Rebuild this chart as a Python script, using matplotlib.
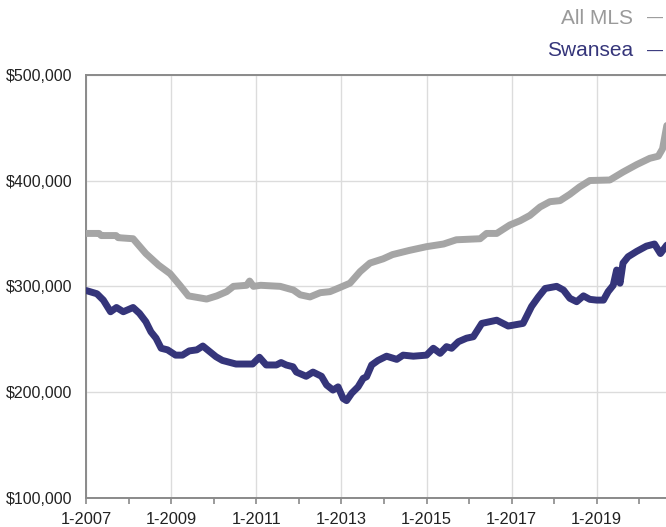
import matplotlib
matplotlib.use("Agg")
import matplotlib.pyplot as plt

# ---- data (decimal year, median price in $k) ----
mls_t = [2007.0, 2007.3, 2007.35, 2007.7, 2007.75, 2008.1, 2008.4, 2008.7, 2008.97,
         2009.2, 2009.4, 2009.83, 2010.07, 2010.3, 2010.46, 2010.77, 2010.84, 2010.93,
         2011.1, 2011.56, 2011.87, 2012.03, 2012.26, 2012.5, 2012.73, 2012.97, 2013.2,
         2013.44, 2013.67, 2013.98, 2014.2, 2014.6, 2015.0, 2015.4, 2015.7, 2016.26,
         2016.41, 2016.65, 2016.96, 2017.2, 2017.43, 2017.67, 2017.9, 2018.14, 2018.37,
         2018.6, 2018.84, 2019.31, 2019.62, 2019.94, 2020.25, 2020.45, 2020.55, 2020.65]
mls_v = [350, 350, 348, 348, 346, 345, 331, 320, 312,
         301, 291, 288, 291, 295, 300, 301, 305, 300,
         301, 300, 296.5, 292, 290, 294, 295, 299, 303,
         314, 322, 326, 330, 334, 337.5, 340, 344, 345,
         350, 350, 358, 362, 367, 375, 380, 381, 387,
         394, 400, 400.5, 408, 415, 421, 423, 430, 452]

sw_t = [2007.0, 2007.25, 2007.4, 2007.57, 2007.71, 2007.87, 2008.1, 2008.25, 2008.4,
        2008.52, 2008.64, 2008.76, 2008.91, 2009.1, 2009.26, 2009.42, 2009.6, 2009.74,
        2009.85, 2010.05, 2010.2, 2010.52, 2010.91, 2011.07, 2011.23, 2011.47, 2011.58,
        2011.7, 2011.86, 2011.94, 2012.17, 2012.33, 2012.53, 2012.65, 2012.8, 2012.92,
        2013.04, 2013.12, 2013.24, 2013.39, 2013.51, 2013.59, 2013.71, 2013.86, 2014.06,
        2014.3, 2014.45, 2014.69, 2015.0, 2015.16, 2015.32, 2015.47, 2015.59, 2015.75,
        2015.94, 2016.1, 2016.3, 2016.65, 2016.92, 2017.27, 2017.47, 2017.63, 2017.79,
        2018.06, 2018.22, 2018.37, 2018.53, 2018.69, 2018.84, 2019.0, 2019.16, 2019.27,
        2019.39, 2019.47, 2019.51, 2019.55, 2019.62, 2019.74, 2019.94, 2020.17, 2020.36,
        2020.5, 2020.65]
sw_v = [296, 293, 287, 276, 280, 276, 280, 274.5, 266.6,
        257, 251, 241.5, 240, 235, 235, 239, 240, 243.6,
        240, 233.5, 230, 226.6, 226.6, 233, 225.7, 225.7, 228,
        225.7, 224, 219, 215, 219, 215, 206.8, 202, 205,
        194, 192, 199, 205, 213, 214.6, 225.7, 230, 234,
        231, 235, 234, 235, 241.5, 236.7, 243, 241.5, 247.7,
        251, 252.4, 265, 268, 262.5, 265, 281, 290, 298,
        300, 296.5, 288.7, 285.5, 291, 287.7, 287, 287, 295,
        301, 315.4, 309, 303, 322, 328, 333, 338, 340,
        331, 339]

yticks = [100, 200, 300, 400, 500]
ytick_labels = ["$100,000", "$200,000", "$300,000", "$400,000", "$500,000"]
xticks_major = [2007, 2009, 2011, 2013, 2015, 2017, 2019]
xtick_labels = ["1-2007", "1-2009", "1-2011", "1-2013", "1-2015", "1-2017", "1-2019"]
xticks_minor = list(range(2008, 2022, 2))

series_names = ["All MLS", "Swansea"]

GRAY = "#a5a5a5"
NAVY = "#35357a"
AXC = "#8a8a8a"
FONT = ["Liberation Sans", "DejaVu Sans"]

plt.rcParams["font.family"] = FONT

fig = plt.figure(figsize=(6.66, 5.27), dpi=100)
ax = fig.add_axes([86.3 / 666, 29 / 527, 595.4 / 666, 423.3 / 527])

ax.plot(mls_t, mls_v, color=GRAY, lw=5.0, solid_capstyle="round",
        solid_joinstyle="round", zorder=3)
ax.plot(sw_t, sw_v, color=NAVY, lw=5.0, solid_capstyle="round",
        solid_joinstyle="round", zorder=4)

ax.set_xlim(2007, 2021)
ax.set_ylim(100, 500)

ax.set_yticks(yticks)
ax.set_yticklabels(ytick_labels)
ax.set_xticks(xticks_major)
ax.set_xticklabels(xtick_labels)
ax.set_xticks(xticks_minor, minor=True)

ax.grid(True, which="major", color="#dcdcdc", lw=1.0, zorder=0)
ax.set_axisbelow(True)

for side in ["left", "bottom", "top", "right"]:
    ax.spines[side].set_color(AXC)
    ax.spines[side].set_linewidth(1.4)

ax.tick_params(axis="y", length=0, pad=10, labelsize=11.5, labelcolor="#222222")
ax.tick_params(axis="x", which="both", length=4, width=1.2, color=AXC, direction="out",
               pad=6, labelsize=11.8, labelcolor="#222222")

# legend as text at top right
fig.text(633 / 666, 1 - 18 / 527, series_names[0], ha="right", va="center",
         fontsize=15, color="#9a9a9a")
fig.text(647 / 666, 1 - 18 / 527, "\u2014", ha="left", va="center",
         fontsize=11.5, color="#9a9a9a")
fig.text(633 / 666, 1 - 51 / 527, series_names[1], ha="right", va="center",
         fontsize=15, color=NAVY)
fig.text(647 / 666, 1 - 51 / 527, "\u2014", ha="left", va="center",
         fontsize=11.5, color=NAVY)

fig.savefig("out.png", dpi=100)
